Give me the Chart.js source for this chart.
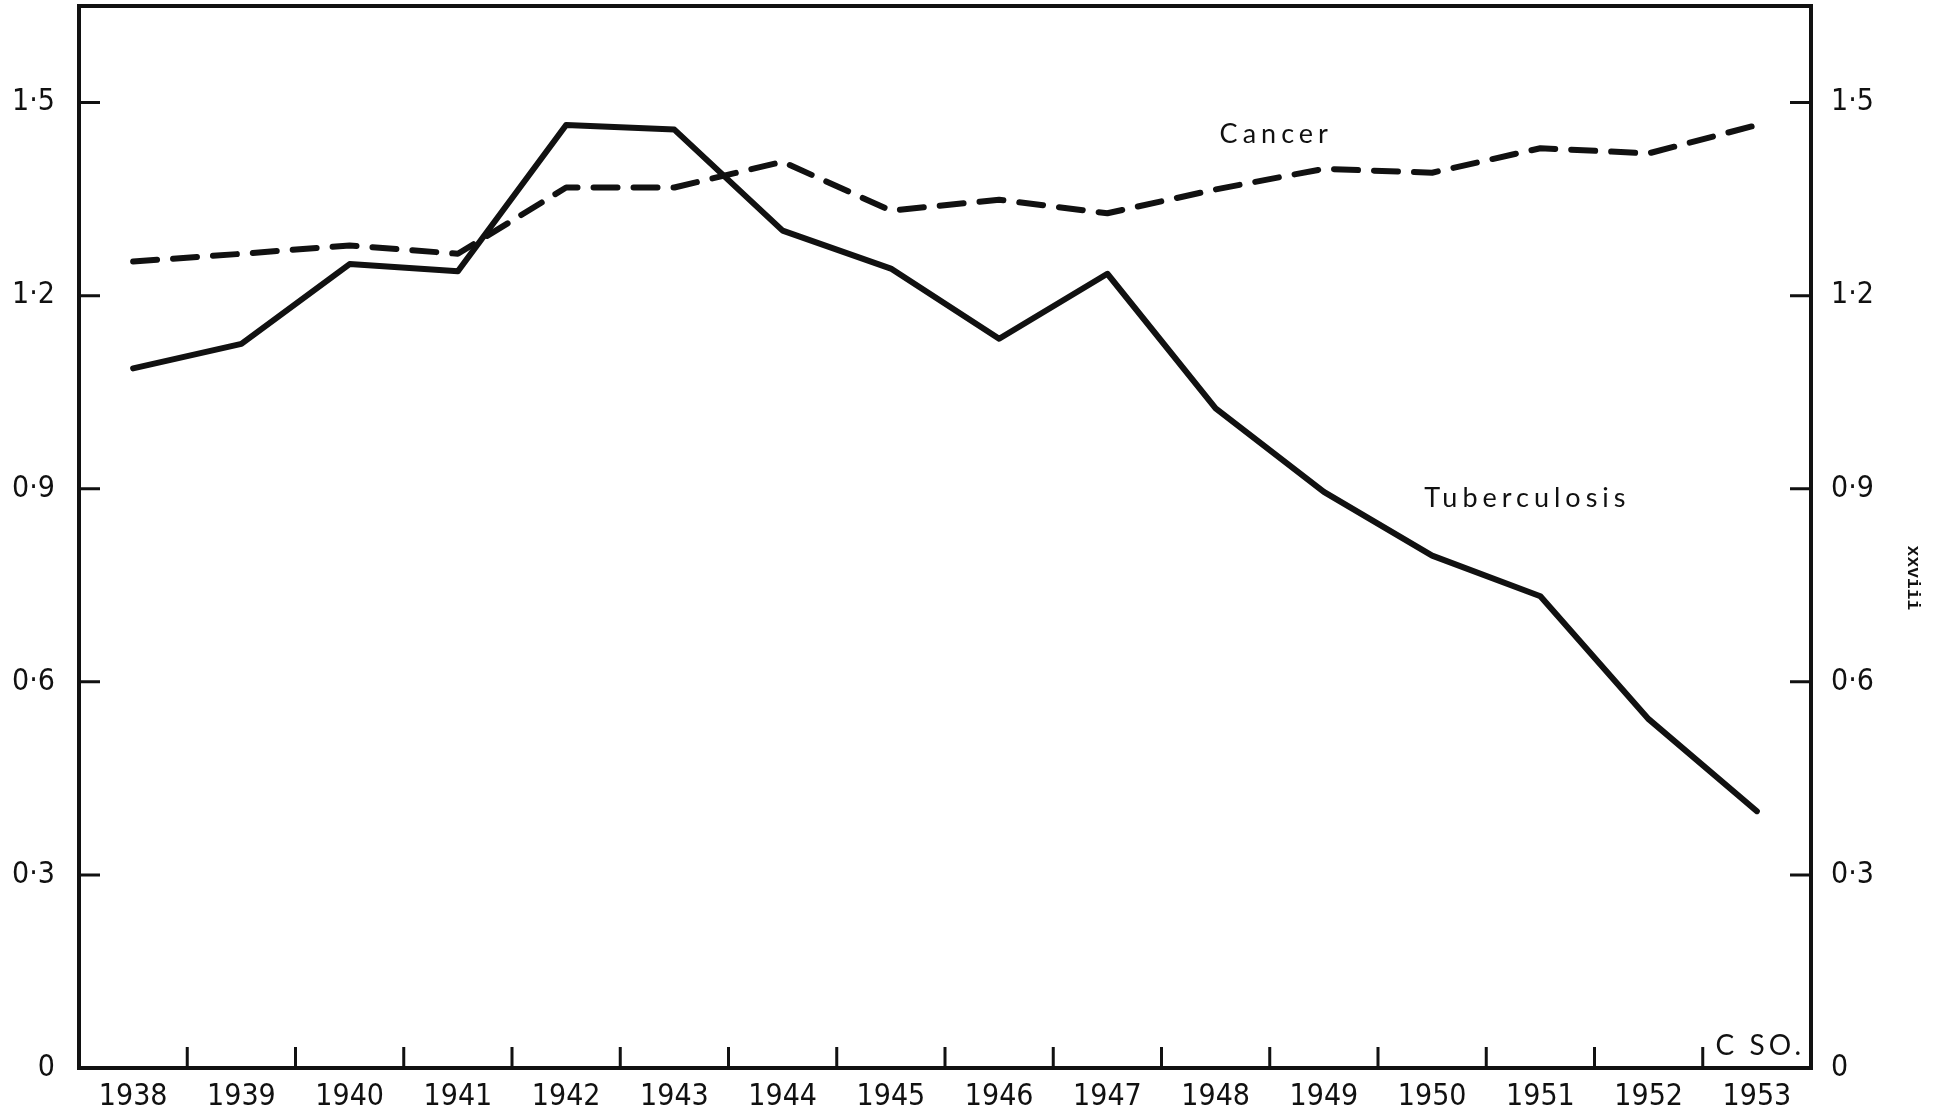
<!DOCTYPE html>
<html>
<head>
<meta charset="utf-8">
<script src="https://cdn.jsdelivr.net/npm/chart.js@4.4.1/dist/chart.umd.min.js"></script>
<style>
  html, body { margin: 0; padding: 0; background: #fff; }
  #wrap { width: 1933px; height: 1119px; }
</style>
</head>
<body>
<div id="wrap"><canvas id="chart" width="1933" height="1119"></canvas></div>
<script>
const years = ['1938', '1939', '1940', '1941', '1942', '1943', '1944', '1945',
               '1946', '1947', '1948', '1949', '1950', '1951', '1952', '1953'];
const tuberculosis = [1.087, 1.125, 1.249, 1.238, 1.465, 1.458, 1.301, 1.242,
                      1.133, 1.234, 1.025, 0.895, 0.796, 0.733, 0.542, 0.399];
const cancer = [1.253, 1.265, 1.278, 1.265, 1.368, 1.368, 1.408, 1.332,
                1.349, 1.328, 1.365, 1.397, 1.391, 1.429, 1.421, 1.465];
const yTicks = [0, 0.3, 0.6, 0.9, 1.2, 1.5];

// series names written on the plot (x = category index, y = value)
const notes = [
    { text: 'Cancer', x: 10.56, y: 1.450 },
    { text: 'Tuberculosis', x: 12.88, y: 0.885 }
];

const INK = '#111';
const labelFont = { family: '"Liberation Sans Narrow", "DejaVu Sans Condensed", Lato, sans-serif', size: 30 };

function fmtTick(v) {
    if (v === 0) return '0';
    return v.toFixed(1).replace('.', '\u00b7');
}

// frame, inward tick marks and the hand-lettered labels
const decor = {
    id: 'decor',
    afterDraw(chart) {
        const { ctx, chartArea: a, scales } = chart;
        const x = scales.x, y = scales.y;
        const tick = 21;
        ctx.save();
        ctx.strokeStyle = INK;
        ctx.lineCap = 'butt';

        ctx.lineWidth = 3;
        ctx.beginPath();
        for (let i = 1; i < years.length; i++) {
            const px = x.getPixelForValue(i - 0.5);
            ctx.moveTo(px, a.bottom);
            ctx.lineTo(px, a.bottom - tick);
        }
        yTicks.forEach(v => {
            if (v === 0) return;
            const py = y.getPixelForValue(v);
            ctx.moveTo(a.left, py);
            ctx.lineTo(a.left + tick, py);
            ctx.moveTo(a.right, py);
            ctx.lineTo(a.right - tick, py);
        });
        ctx.stroke();

        ctx.lineWidth = 4;
        ctx.strokeRect(a.left, a.top, a.right - a.left, a.bottom - a.top);

        ctx.fillStyle = INK;
        ctx.font = '27px Lato, "Open Sans", sans-serif';
        ctx.letterSpacing = '5px';
        ctx.textAlign = 'center';
        ctx.textBaseline = 'middle';
        notes.forEach(n => {
            ctx.fillText(n.text, x.getPixelForValue(n.x), y.getPixelForValue(n.y));
        });

        ctx.font = '28px Lato, "Open Sans", sans-serif';
        ctx.letterSpacing = '4px';
        ctx.textAlign = 'right';
        ctx.textBaseline = 'alphabetic';
        ctx.fillText('C SO.', a.right - 6, a.bottom - 13);

        ctx.letterSpacing = '0px';
        ctx.font = 'bold 18px "Liberation Mono", monospace';
        ctx.translate(1913, 578);
        ctx.rotate(Math.PI / 2);
        ctx.textAlign = 'center';
        ctx.textBaseline = 'middle';
        ctx.fillText('xxviii', 0, 0);
        ctx.restore();
    }
};

function valueAxis(position, padding, width) {
    return {
        type: 'linear',
        position: position,
        min: 0,
        max: 1.65,
        afterBuildTicks: s => { s.ticks = yTicks.map(v => ({ value: v })); },
        afterFit: s => { s.width = width; s.paddingTop = 0; s.paddingBottom = 0; },
        grid: { display: false, drawTicks: false },
        border: { display: false },
        ticks: {
            color: INK,
            font: labelFont,
            padding: padding,
            callback: fmtTick
        }
    };
}

const ctx = document.getElementById('chart').getContext('2d');
new Chart(ctx, {
    type: 'line',
    data: {
        labels: years,
        datasets: [
            {
                label: 'Tuberculosis',
                data: tuberculosis,
                borderColor: INK,
                borderWidth: 6,
                borderJoinStyle: 'round',
                borderCapStyle: 'round',
                tension: 0,
                pointRadius: 0,
                yAxisID: 'y'
            },
            {
                label: 'Cancer',
                data: cancer,
                borderColor: INK,
                borderWidth: 6,
                borderDash: [24, 16],
                borderJoinStyle: 'round',
                borderCapStyle: 'round',
                tension: 0,
                pointRadius: 0,
                yAxisID: 'y'
            }
        ]
    },
    options: {
        responsive: false,
        animation: false,
        devicePixelRatio: 1,
        layout: { padding: { top: 6, left: 0, right: 0, bottom: 0 } },
        plugins: {
            legend: { display: false },
            tooltip: { enabled: false }
        },
        scales: {
            x: {
                type: 'category',
                offset: true,
                afterFit: s => { s.height = 51; s.paddingLeft = 0; s.paddingRight = 0; },
                grid: { display: false, drawTicks: false, offset: true },
                border: { display: false },
                ticks: {
                    color: INK,
                    font: labelFont,
                    padding: 11,
                    maxRotation: 0,
                    autoSkip: false
                }
            },
            y: valueAxis('left', 24, 79),
            y2: valueAxis('right', 20, 122)
        }
    },
    plugins: [decor]
});
</script>
</body>
</html>
